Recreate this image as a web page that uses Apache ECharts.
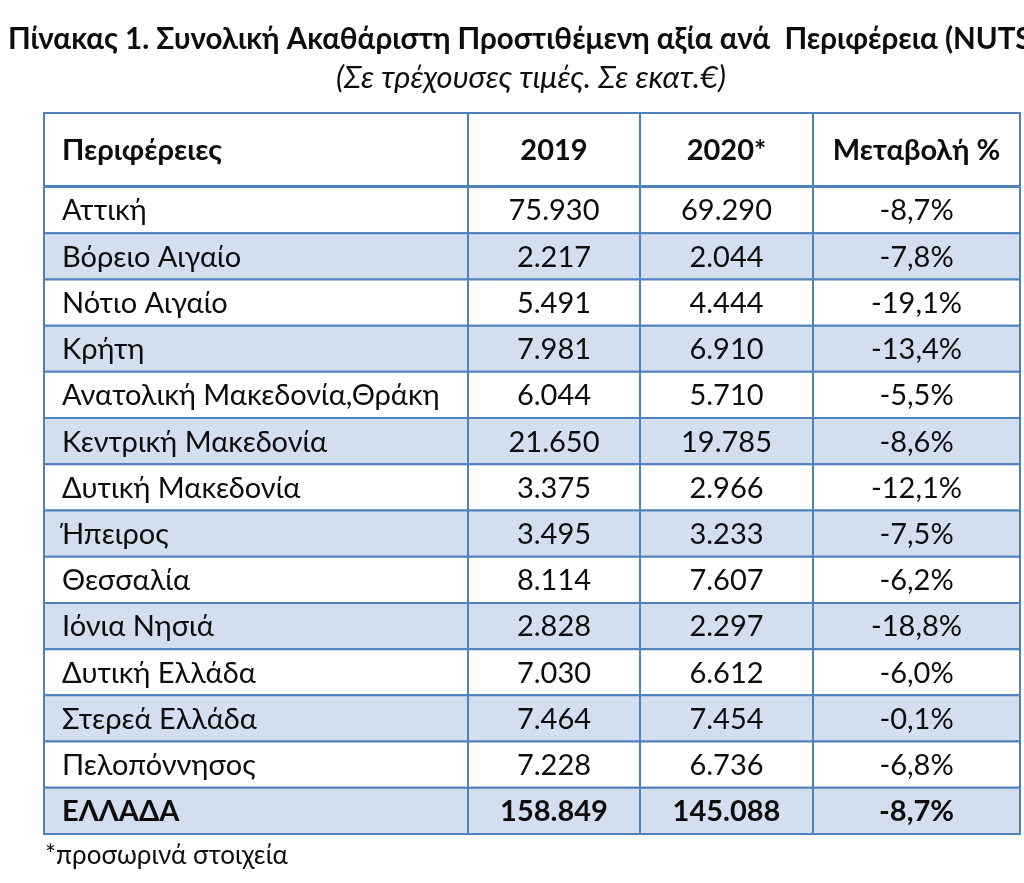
<!DOCTYPE html>
<html>
<head>
<meta charset="utf-8">
<script src="https://cdn.jsdelivr.net/npm/echarts@6/dist/echarts.min.js"></script>
<style>
html, body { margin: 0; background: #fff; }
#main { width: 1024px; height: 883px; }
</style>
</head>
<body>
<div id="main"></div>
<script>
// data
const headers = ['Περιφέρειες', '2019', '2020*', 'Μεταβολή %'];
const regions = ['Αττική', 'Βόρειο Αιγαίο', 'Νότιο Αιγαίο', 'Κρήτη', 'Ανατολική Μακεδονία,Θράκη',
  'Κεντρική Μακεδονία', 'Δυτική Μακεδονία', 'Ήπειρος', 'Θεσσαλία', 'Ιόνια Νησιά',
  'Δυτική Ελλάδα', 'Στερεά Ελλάδα', 'Πελοπόννησος'];
const gva2019 = [75930, 2217, 5491, 7981, 6044, 21650, 3375, 3495, 8114, 2828, 7030, 7464, 7228];
const gva2020 = [69290, 2044, 4444, 6910, 5710, 19785, 2966, 3233, 7607, 2297, 6612, 7454, 6736];
const change = [-8.7, -7.8, -19.1, -13.4, -5.5, -8.6, -12.1, -7.5, -6.2, -18.8, -6.0, -0.1, -6.8];
const totalLabel = 'ΕΛΛΑΔΑ';
const total2019 = 158849;
const total2020 = 145088;
const totalChange = -8.7;

// layout
const colWidths = [424, 172, 173, 207];
const headerH = 74;
const rowH = 46.2;
const FONT = 'Lato, "Open Sans", sans-serif';
const lineColor = '#4f81bd';
const stripe = '#d3dfee';

const fmtNum = n => String(n).replace(/\B(?=(\d{3})+(?!\d))/g, '.');
const fmtPct = n => n.toFixed(1).replace('.', ',') + '%';

// rows of the table: header, regions, total
const tableRows = [headers];
regions.forEach((r, i) => tableRows.push([r, fmtNum(gva2019[i]), fmtNum(gva2020[i]), fmtPct(change[i])]));
tableRows.push([totalLabel, fmtNum(total2019), fmtNum(total2020), fmtPct(totalChange)]);

const colStart = [];
colWidths.reduce((a, w, i) => { colStart[i] = a; return a + w; }, 0);
const totalW = colWidths.reduce((a, b) => a + b, 0);
const totalH = headerH + (tableRows.length - 1) * rowH;

let chart = echarts.init(document.getElementById('main'));

let renderCell = (params, api) => {
  const i = api.value(0);
  const yTop = i === 0 ? 0 : headerH + (i - 1) * rowH;
  const yBot = i === 0 ? headerH : yTop + rowH;
  const bold = i === 0 || i === tableRows.length - 1;
  const fill = i > 0 && (i - 1) % 2 === 1 ? stripe : '#fff';
  const children = [];
  tableRows[i].forEach((txt, c) => {
    const p0 = api.coord([colStart[c], yTop]);
    const p1 = api.coord([colStart[c] + colWidths[c], yBot]);
    children.push({
      type: 'rect',
      shape: { x: p0[0], y: p0[1], width: p1[0] - p0[0], height: p1[1] - p0[1] },
      style: { fill: fill, stroke: lineColor, lineWidth: 2 }
    });
    children.push({
      type: 'text',
      style: {
        text: txt,
        x: c === 0 ? p0[0] + 18 : (p0[0] + p1[0]) / 2,
        y: (p0[1] + p1[1]) / 2 + 1,
        align: c === 0 ? 'left' : 'center',
        verticalAlign: 'middle',
        font: (bold ? 'bold ' : '') + '29px ' + FONT,
        fill: '#0d0d0d'
      }
    });
  });
  if (i === 0) {
    // double line under the header
    const a = api.coord([0, headerH]);
    const b = api.coord([totalW, headerH]);
    children.push({
      type: 'line',
      shape: { x1: a[0], y1: a[1], x2: b[0], y2: b[1] },
      style: { stroke: lineColor, lineWidth: 4 }
    });
  }
  return { type: 'group', children: children };
};

let option = {
  animation: false,
  title: [
    {
      text: 'Πίνακας 1. Συνολική Ακαθάριστη Προστιθέμενη αξία ανά  Περιφέρεια (NUTS 2)',
      left: 8, top: 24, padding: 0,
      textStyle: { fontFamily: FONT, fontWeight: 'bold', fontSize: 29.5, color: '#0d0d0d' }
    },
    {
      text: '(Σε τρέχουσες τιμές. Σε εκατ.€)',
      left: 336, top: 62, padding: 0,
      textStyle: { fontFamily: FONT, fontStyle: 'italic', fontWeight: 'normal', fontSize: 31, color: '#0d0d0d' }
    },
    {
      text: '*προσωρινά στοιχεία',
      left: 45, top: 843, padding: 0,
      textStyle: { fontFamily: FONT, fontWeight: 'normal', fontSize: 26, color: '#0d0d0d' }
    }
  ],
  grid: { left: 44, right: 4, top: 113, bottom: 49 },
  xAxis: { type: 'value', min: 0, max: totalW, show: false },
  yAxis: { type: 'value', min: 0, max: totalH, inverse: true, show: false },
  series: [{
    type: 'custom',
    renderItem: renderCell,
    clip: false,
    data: tableRows.map((r, i) => [i])
  }]
};
option && chart.setOption(option);
</script>
</body>
</html>
